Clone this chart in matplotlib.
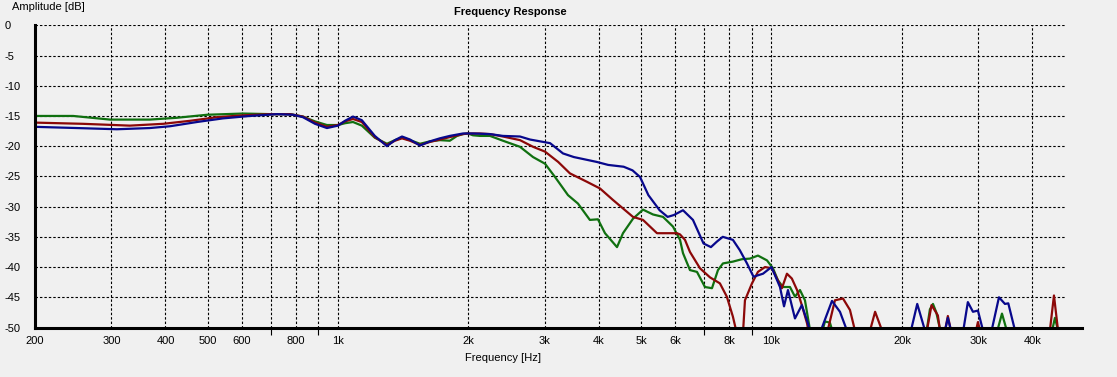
import numpy as np
import matplotlib
matplotlib.use("Agg")
import matplotlib.pyplot as plt

# measured curves, frequency in Hz / amplitude in dB (values below -50 fall under the floor)
green_f = [200, 245, 298, 368, 425, 499, 604, 700, 775, 830, 885, 943, 1000, 1038, 1083, 1135,
           1216, 1297, 1353, 1405, 1466, 1546, 1630, 1718, 1811, 1882, 1942, 1995, 2048, 2126,
           2242, 2402, 2629, 2818, 3003, 3167, 3393, 3578, 3811, 3978, 4130, 4402, 4544, 4792,
           5054, 5330, 5621, 5926, 6152, 6250, 6486, 6732, 7024, 7290, 7526, 7727, 8147, 8548,
           8920, 9306, 9766, 10080, 10351, 10630, 11032, 11329, 11634, 11946, 12276, 12590,
           12942, 13288, 13640, 14008, 22000, 22840, 23200, 23580, 24000, 24480, 25000,
           33200, 34020, 34900, 35500, 44400, 45080, 45820, 47000]
green_db = [-15.0, -15.0, -15.6, -15.6, -15.3, -14.8, -14.6, -14.7, -14.7, -15.1, -15.9, -16.5,
            -16.5, -16.2, -16.0, -16.6, -18.6, -19.6, -19.0, -18.6, -19.0, -19.6, -19.2, -19.0,
            -19.1, -18.3, -18.0, -17.9, -18.2, -18.3, -18.3, -19.1, -20.1, -21.8, -22.9, -25.1,
            -28.1, -29.5, -32.2, -32.1, -34.4, -36.7, -34.4, -32.0, -30.5, -31.3, -31.7, -33.3,
            -35.5, -37.7, -40.5, -40.8, -43.3, -43.5, -40.5, -39.4, -39.1, -38.7, -38.6, -38.1,
            -38.9, -40.2, -42.2, -43.3, -43.3, -44.9, -43.8, -45.5, -50.5, -56, -52, -49.0,
            -49.2, -52, -56, -50.2, -47.0, -46.1, -47.5, -50.3, -56,
            -50.5, -47.7, -50.5, -56, -50.5, -48.4, -50.5, -56]

red_f = [200, 258, 331, 395, 456, 526, 604, 697, 775, 830, 885, 943, 1000, 1038, 1083, 1135,
         1216, 1297, 1353, 1405, 1466, 1546, 1630, 1718, 1811, 1942, 1995, 2126, 2242, 2402,
         2629, 2818, 3003, 3220, 3428, 3754, 4022, 4309, 4544, 4792, 5054, 5444, 5833, 6053,
         6152, 6316, 6486, 6840, 7212, 7604, 7889, 8147, 8320, 8460, 8594, 8686, 9016, 9306,
         9660, 10024, 10294, 10571, 10856, 11143, 11455, 11750, 12078, 12276, 13000, 13428,
         14008, 14620, 15172, 15580, 16000, 16880, 17340, 17990, 18500, 22600, 22840, 23400,
         24200, 24480, 25140, 25520, 25940, 26500, 29640, 29940, 30280, 31000, 43880, 44840,
         45820, 47000]
red_db = [-16.1, -16.3, -16.6, -16.3, -15.8, -15.2, -14.9, -14.7, -14.7, -15.1, -16.1, -16.8,
          -16.5, -15.9, -15.5, -16.0, -18.5, -19.8, -19.1, -18.7, -19.1, -19.8, -19.3, -18.9,
          -18.5, -18.0, -17.9, -17.9, -18.0, -18.4, -19.0, -20.1, -20.9, -22.6, -24.5, -25.9,
          -27.0, -28.9, -30.3, -31.7, -32.2, -34.4, -34.4, -34.4, -34.6, -35.5, -37.5, -40.2,
          -41.7, -42.7, -44.9, -48.2, -51, -58, -51, -45.5, -42.7, -40.8, -40.0, -40.2, -41.9,
          -43.5, -41.1, -41.9, -43.8, -46.3, -49.3, -52, -58, -51, -45.5, -45.2, -47.1, -50.5,
          -58, -50.5, -47.4, -50.5, -58, -58, -50.5, -46.3, -48.0, -50.5, -50.5, -48.1, -50.5,
          -58, -50.5, -49.1, -50.5, -58, -50.5, -44.7, -50.5, -58]

blue_f = [200, 250, 309, 368, 410, 473, 543, 627, 723, 787, 830, 885, 943, 1000, 1038, 1083,
          1135, 1216, 1297, 1353, 1405, 1466, 1546, 1630, 1718, 1811, 1942, 2048, 2242, 2402,
          2629, 2773, 3085, 3304, 3500, 3950, 4200, 4560, 4780, 4975, 5200, 5520, 5760, 5950,
          6250, 6590, 6970, 7250, 7480, 7720, 8147, 8450, 8780, 9090, 9560, 10000, 10462,
          10689, 10915, 11329, 11750, 12136, 12400, 12800, 13000, 13790, 14388, 14930, 15500,
          20500, 20980, 21690, 22600, 23000, 24800, 25140, 25520, 25940, 26500, 27200, 27700,
          28380, 29160, 29940, 30760, 31500, 32200, 33480, 34560, 35180, 36460, 37500]
blue_db = [-16.8, -17.0, -17.2, -17.0, -16.7, -16.0, -15.4, -15.0, -14.7, -14.8, -15.2, -16.3,
           -17.0, -16.6, -15.8, -15.1, -15.7, -18.3, -20.0, -19.0, -18.4, -18.9, -19.9, -19.2,
           -18.7, -18.3, -17.9, -17.9, -18.0, -18.3, -18.4, -18.9, -19.5, -21.2, -21.8, -22.6,
           -23.1, -23.4, -24.0, -25.1, -28.1, -30.6, -31.7, -31.4, -30.6, -32.2, -36.1, -36.7,
           -35.8, -35.0, -35.5, -37.2, -39.4, -41.6, -41.1, -40.0, -43.3, -46.5, -43.8, -48.5,
           -46.3, -49.3, -52, -58, -50.5, -45.6, -47.4, -50.5, -58,
           -58, -50.5, -46.1, -50.5, -58, -58, -50.5, -48.4, -50.5, -58, -58, -50.5,
           -45.8, -47.4, -47.2, -50.5, -58, -50.5, -45.0, -46.1, -46.0, -50.5, -58]

grid_freqs = [300, 400, 500, 600, 700, 800, 900, 1000, 2000, 3000, 4000, 5000, 6000, 7000,
              8000, 9000, 10000, 20000, 30000, 40000]
label_freqs = [200, 300, 400, 500, 600, 800, 1000, 2000, 3000, 4000, 5000, 6000, 8000, 10000,
               20000, 30000, 40000]
label_text = ['200', '300', '400', '500', '600', '800', '1k', '2k', '3k', '4k', '5k', '6k',
              '8k', '10k', '20k', '30k', '40k']
unlabeled = [700, 900, 7000, 9000]
db_ticks = [0, -5, -10, -15, -20, -25, -30, -35, -40, -45, -50]

bg = '#f0f0f0'
W, H = 1117, 377
fig = plt.figure(figsize=(W / 100, H / 100), dpi=100, facecolor=bg)
plt.rcParams['font.family'] = ['Liberation Sans', 'DejaVu Sans']

ax = fig.add_axes([35 / W, (H - 327.5) / H, (1082 - 35) / W, (327.5 - 25.3) / H])
ax.set_facecolor(bg)
ax.set_xscale('log')
ax.set_xlim(200, 52040)
ax.set_ylim(-50, 0)

# dashed grid
ax.hlines(db_ticks[:-1], 200, 47800, colors='black', linestyles=(0, (2.2, 1.8)), lw=0.8, zorder=1)
ax.vlines(grid_freqs, -50, 0, colors='black', linestyles=(0, (2.2, 1.8)), lw=0.8, zorder=1)

ax.plot(green_f, green_db, color='#107010', lw=1.6, zorder=3)
ax.plot(red_f, red_db, color='#8c0808', lw=1.6, zorder=4)
ax.plot(blue_f, blue_db, color='#08088c', lw=1.6, zorder=5)

for s in ['top', 'right']:
    ax.spines[s].set_visible(False)
for s in ['left', 'bottom']:
    ax.spines[s].set_linewidth(2.2)
    ax.spines[s].set_zorder(6)

ax.set_xticks(label_freqs)
ax.set_xticklabels(label_text)
ax.set_xticks(unlabeled, minor=True)
ax.xaxis.set_minor_formatter(matplotlib.ticker.NullFormatter())
ax.tick_params(axis='x', which='major', length=0, pad=6, labelsize=8)
ax.tick_params(axis='x', which='minor', length=5, width=0.8, direction='out')
ax.set_yticks(db_ticks)
ax.set_yticklabels([str(v) for v in db_ticks])
ax.tick_params(axis='y', length=0, pad=22, labelsize=8)
for lab in ax.get_yticklabels():
    lab.set_horizontalalignment('left')

fig.text(12 / W, 1 - 7 / H, 'Amplitude [dB]', fontsize=8, va='center', ha='left')
fig.text(510 / W, 1 - 12 / H, 'Frequency Response', fontsize=8, fontweight='bold',
         va='center', ha='center')
fig.text(503 / W, 1 - 358 / H, 'Frequency [Hz]', fontsize=8, va='center', ha='center')

fig.savefig('out.png', dpi=100, facecolor=bg)
